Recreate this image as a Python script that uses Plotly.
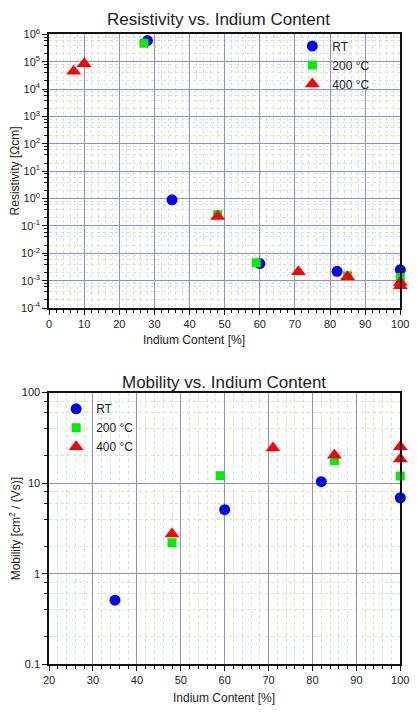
import numpy as np
import plotly.graph_objects as go

# ---------------- data ----------------
# Resistivity (Ohm cm) vs Indium content (%)
res_rt_x = [28, 35, 60, 82, 100]
res_rt_y = [6.0e5, 0.9, 4.2e-3, 2.2e-3, 2.5e-3]
res_200_x = [27, 48, 59, 85, 100]
res_200_y = [4.8e5, 0.26, 4.5e-3, 1.5e-3, 1.3e-3]
res_400_x = [7, 10, 48, 71, 85, 100, 100]
res_400_y = [4.5e4, 8.5e4, 0.22, 2.1e-3, 1.4e-3, 8.5e-4, 6.5e-4]

# Mobility (cm^2/Vs) vs Indium content (%)
mob_rt_x = [35, 60, 82, 100]
mob_rt_y = [0.51, 5.1, 10.4, 6.9]
mob_200_x = [48, 59, 85, 100]
mob_200_y = [2.2, 12.1, 17.7, 12.0]
mob_400_x = [48, 71, 85, 100, 100]
mob_400_y = [2.75, 24.5, 20.3, 25.3, 18.5]

series_names = ["RT", "200 °C", "400 °C"]
top_xticks = [0, 10, 20, 30, 40, 50, 60, 70, 80, 90, 100]
bot_xticks = [20, 30, 40, 50, 60, 70, 80, 90, 100]
top_yexp = [-4, -3, -2, -1, 0, 1, 2, 3, 4, 5, 6]
top_yticks = [10.0 ** e for e in top_yexp]
top_ytext = ["10<sup>%d</sup>" % e for e in top_yexp]
bot_yticks = [0.1, 1, 10, 100]
bot_ytext = ["0.1", "1", "10", "100"]

# ---------------- style ----------------
W, H = 417, 717
FONT = "Liberation Sans, Arial, sans-serif"
BLUE, GREEN, RED = "#0000ff", "#00ee00", "#ff0000"
MAJ = "#8c8ce6"
MIN = "#d2e4d2"

def px_x(p):
    return p / W

def px_y(p):
    return 1 - p / H

def minor_log(e0, e1):
    return [m * 10.0 ** e for e in range(e0, e1) for m in (2, 4, 6, 8)]

fig = go.Figure()

def add(x, y, name, color, symbol, size, xa, ya, leg):
    fig.add_trace(go.Scatter(
        x=x, y=y, name=name, mode="markers", xaxis=xa, yaxis=ya,
        legend=leg, cliponaxis=False,
        marker=dict(color=color, symbol=symbol, size=size, line=dict(width=0)),
    ))

add(res_rt_x, res_rt_y, series_names[0], BLUE, "circle", 11, "x", "y", "legend")
add(res_200_x, res_200_y, series_names[1], GREEN, "square", 9, "x", "y", "legend")
add(res_400_x, res_400_y, series_names[2], RED, "triangle-up", 13, "x", "y", "legend")
add(mob_rt_x, mob_rt_y, series_names[0], BLUE, "circle", 11, "x2", "y2", "legend2")
add(mob_200_x, mob_200_y, series_names[1], GREEN, "square", 9, "x2", "y2", "legend2")
add(mob_400_x, mob_400_y, series_names[2], RED, "triangle-up", 13, "x2", "y2", "legend2")

tickfont = dict(family=FONT, size=11, color="#222")

def xaxis(dom, anchor, rng, ticks):
    return dict(
        domain=dom, anchor=anchor, range=rng, tickmode="array", tickvals=ticks,
        showline=True, linecolor="#111", linewidth=1.5, mirror=True,
        ticks="outside", ticklen=5, tickcolor="#111", tickwidth=1,
        showgrid=True, gridcolor=MAJ, gridwidth=1, zeroline=False,
        tickfont=tickfont, ticklabeloverflow="allow",
        minor=dict(dtick=2, showgrid=True, gridcolor=MIN, griddash="dot",
                   ticks="outside", ticklen=3, tickcolor="#111"),
    )

def yaxis(dom, anchor, rng, tv, tt, mv):
    return dict(
        domain=dom, anchor=anchor, type="log", range=rng,
        tickmode="array", tickvals=tv, ticktext=tt,
        showline=True, linecolor="#111", linewidth=1.5, mirror=True,
        ticks="outside", ticklen=5, tickcolor="#111", tickwidth=1,
        showgrid=True, gridcolor=MAJ, gridwidth=1, zeroline=False,
        tickfont=tickfont, ticklabeloverflow="allow",
        minor=dict(tickmode="array", tickvals=mv, showgrid=True, gridcolor=MIN,
                   griddash="dot", ticks="outside", ticklen=3, tickcolor="#111"),
    )

xdom = [px_x(44.7), px_x(409)]
top_dom = [px_y(306), px_y(27)]
bot_dom = [px_y(669.3), px_y(392.3)]

legfont = dict(family=FONT, size=12, color="#222")
fig.update_layout(
    width=W, height=H,
    margin=dict(l=0, r=0, t=0, b=0),
    paper_bgcolor="white", plot_bgcolor="white",
    font=dict(family=FONT, size=12, color="#222"),
    xaxis=xaxis(xdom, "y", [0, 100], top_xticks),
    yaxis=yaxis(top_dom, "x", [-4, 6], top_yticks, top_ytext, minor_log(-4, 6)),
    xaxis2=xaxis(xdom, "y2", [20, 100], bot_xticks),
    yaxis2=yaxis(bot_dom, "x2", [-1, 2], bot_yticks, bot_ytext, minor_log(-1, 2)),
    legend=dict(x=px_x(297), y=px_y(24), xanchor="left", yanchor="top",
                bgcolor="rgba(0,0,0,0)", font=legfont, tracegroupgap=0),
    legend2=dict(x=px_x(52), y=px_y(394), xanchor="left", yanchor="top",
                 bgcolor="rgba(0,0,0,0)", font=legfont, tracegroupgap=0),
)

ann = [
    dict(text="Resistivity vs. Indium Content", x=px_x(220), y=px_y(12), size=17, angle=0),
    dict(text="Mobility vs. Indium Content", x=px_x(226), y=px_y(382), size=17, angle=0),
    dict(text="Indium Content [%]", x=px_x(195), y=px_y(339), size=12, angle=0),
    dict(text="Indium Content [%]", x=px_x(226), y=px_y(704), size=12, angle=0),
    dict(text="Resistivity [Ωcm]", x=px_x(9), y=px_y(166), size=12, angle=-90),
    dict(text="Mobility [cm<sup>2</sup> / (Vs)]", x=px_x(9), y=px_y(531), size=12, angle=-90),
]
for a in ann:
    fig.add_annotation(text=a["text"], x=a["x"], y=a["y"], xref="paper", yref="paper",
                       xanchor="center", yanchor="middle", showarrow=False,
                       textangle=a["angle"], font=dict(family=FONT, size=a["size"], color="#222"))

fig.write_html("out.html")
